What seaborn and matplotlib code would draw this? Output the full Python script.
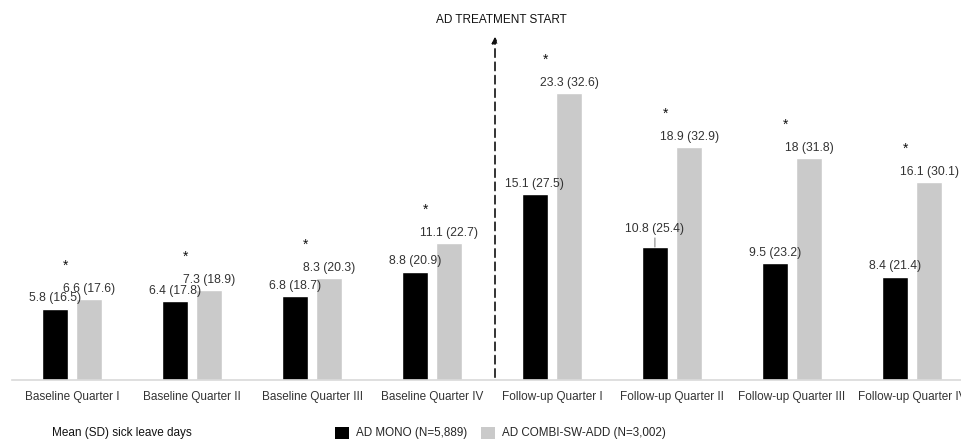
import numpy as np
import pandas as pd
import matplotlib
matplotlib.use("Agg")
import matplotlib.pyplot as plt
from matplotlib.patches import Patch
import seaborn as sns

# ---------------- data ----------------
quarters = ["Baseline Quarter I", "Baseline Quarter II", "Baseline Quarter III",
            "Baseline Quarter IV", "Follow-up Quarter I", "Follow-up Quarter II",
            "Follow-up Quarter III", "Follow-up Quarter IV"]
groups = ["AD MONO (N=5,889)", "AD COMBI-SW-ADD (N=3,002)"]
mono_mean = [5.8, 6.4, 6.8, 8.8, 15.1, 10.8, 9.5, 8.4]
mono_sd = [16.5, 17.8, 18.7, 20.9, 27.5, 25.4, 23.2, 21.4]
combi_mean = [6.6, 7.3, 8.3, 11.1, 23.3, 18.9, 18, 16.1]
combi_sd = [17.6, 18.9, 20.3, 22.7, 32.6, 32.9, 31.8, 30.1]
significant = [True] * 8

df = pd.DataFrame({
    "quarter": quarters * 2,
    "group": [groups[0]] * 8 + [groups[1]] * 8,
    "mean": mono_mean + combi_mean,
})

BLACK = "#000000"
GREY = "#cacaca"
TXT = "#333333"

sns.set_theme(style="white")
plt.rcParams["font.family"] = ["Liberation Sans", "DejaVu Sans"]

fig = plt.figure(figsize=(9.62, 4.4), dpi=100)
# axes runs a bit past the right edge, like the source image
ax = fig.add_axes([12 / 962, 60 / 440, 960 / 962, 351 / 440])

sns.barplot(data=df, x="quarter", y="mean", hue="group", palette=[BLACK, GREY],
            width=0.57, gap=0.24, saturation=1, legend=False, ax=ax)

ax.set_ylim(0, 28.5)
ax.set_xlim(-0.5, 7.5)
ax.set_xlabel("")
ax.set_ylabel("")
ax.set_yticks([])
for side in ["left", "right", "top"]:
    ax.spines[side].set_visible(False)
ax.spines["bottom"].set_color("#d9d9d9")
ax.spines["bottom"].set_linewidth(1.2)
ax.tick_params(axis="x", length=0, labelsize=8.5, colors=TXT, pad=8)

# value labels
mono_labels = [f"{m:g} ({s:g})" for m, s in zip(mono_mean, mono_sd)]
combi_labels = [f"{m:g} ({s:g})" for m, s in zip(combi_mean, combi_sd)]
lifted = mono_labels[5]
mono_labels[5] = ""
ax.bar_label(ax.containers[0], labels=mono_labels, padding=3, fontsize=8.7, color=TXT)
ax.bar_label(ax.containers[1], labels=combi_labels, padding=3, fontsize=8.7, color=TXT)

# lifted label with leader line
bar = ax.containers[0][5]
bx = bar.get_x() + bar.get_width() / 2
ax.annotate(lifted, xy=(bx, mono_mean[5]), xytext=(bx, mono_mean[5] + 1.0),
            ha="center", va="bottom", fontsize=8.7, color=TXT,
            arrowprops=dict(arrowstyle="-", color="#888888", lw=0.8,
                            shrinkA=0, shrinkB=0))

# significance stars
for i, sig in enumerate(significant):
    if sig:
        top = max(mono_mean[i], combi_mean[i])
        ax.text(i - 0.05, top + 2.7, "*", ha="center", va="center", fontsize=10,
                color="#111111")

# treatment start arrow
ax.annotate("", xy=(3.525, 28.1), xytext=(3.525, 0),
            arrowprops=dict(arrowstyle="-|>", color="#111111", lw=1.2,
                            linestyle=(0, (5, 3)), mutation_scale=9),
            annotation_clip=False)
fig.text(501 / 962, 1 - 20 / 440, "AD TREATMENT START", ha="center", va="center",
         fontsize=8.5, color="#111111")

# bottom text and legend
fig.text(52 / 962, 1 - 433 / 440, "Mean (SD) sick leave days", ha="left",
         va="center", fontsize=8.5, color="#111111")
handles = [Patch(facecolor=BLACK, edgecolor="none"), Patch(facecolor=GREY, edgecolor="none")]
fig.legend(handles, groups, loc="center left", bbox_to_anchor=(335 / 962, 1 - 433 / 440),
           ncol=2, frameon=False, fontsize=8.4, handlelength=1.2, handleheight=1.2,
           handletextpad=0.6, columnspacing=1.2, borderpad=0, borderaxespad=0)

fig.savefig("out.png", dpi=100)
